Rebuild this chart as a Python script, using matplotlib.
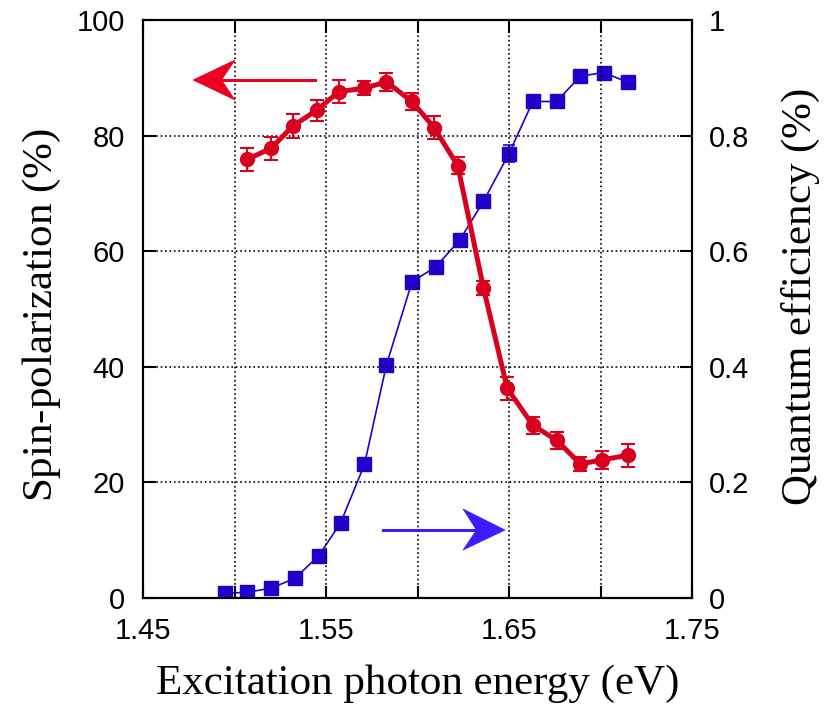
import matplotlib
matplotlib.use("Agg")
import matplotlib.pyplot as plt
from matplotlib.patches import Polygon
from matplotlib.ticker import FixedLocator

plt.rcParams['mathtext.fontset'] = 'custom'
plt.rcParams['mathtext.rm'] = 'Liberation Serif'
plt.rcParams['mathtext.it'] = 'Liberation Serif:italic'

# Spin polarization (left axis, %)
sp_energy = [1.507, 1.520, 1.532, 1.545, 1.557, 1.571, 1.583, 1.597, 1.609,
             1.622, 1.636, 1.649, 1.663, 1.676, 1.689, 1.701, 1.715]
sp_value = [75.9, 77.8, 81.7, 84.4, 87.6, 88.2, 89.3, 85.9, 81.4,
            74.8, 53.7, 36.3, 29.9, 27.3, 23.2, 23.9, 24.7]
sp_err = [2.0, 2.0, 2.1, 1.8, 2.0, 1.2, 1.5, 1.5, 2.0,
          1.5, 1.2, 2.0, 1.5, 1.5, 1.2, 1.5, 2.0]

# Quantum efficiency (right axis, %)
qe_energy = [1.495, 1.507, 1.520, 1.533, 1.546, 1.558, 1.571, 1.583, 1.597,
             1.610, 1.623, 1.636, 1.650, 1.663, 1.676, 1.689, 1.702, 1.715]
qe_value = [0.008, 0.010, 0.017, 0.034, 0.073, 0.130, 0.231, 0.403, 0.547,
            0.573, 0.619, 0.686, 0.769, 0.859, 0.859, 0.903, 0.909, 0.892]
qe_err = [0.008, 0.008, 0.008, 0.008, 0.01, 0.01, 0.01, 0.01, 0.01,
          0.01, 0.01, 0.01, 0.015, 0.01, 0.01, 0.01, 0.01, 0.01]

x_major = [1.45, 1.55, 1.65, 1.75]
x_minor = [1.50, 1.60, 1.70]
y_left_ticks = [0, 20, 40, 60, 80, 100]
y_right_ticks = [0, 0.2, 0.4, 0.6, 0.8, 1.0]
y_right_labels = ['0', '0.2', '0.4', '0.6', '0.8', '1']

RED = '#d8001e'
BLUE = '#2200cc'
ARROW_RED = '#ec0022'
ARROW_BLUE = '#3a1cff'

fig = plt.figure(figsize=(8.29, 7.08), dpi=100)
ax = fig.add_axes([143/829, 1-598/708, 549/829, 578/708])
ax2 = ax.twinx()

# Blue QE on right axis
ax2.errorbar(qe_energy, qe_value, yerr=qe_err, color=BLUE, lw=1.2,
             marker='s', ms=10.5, mec=BLUE, mfc=BLUE, capsize=4, elinewidth=1.2,
             capthick=1.2, zorder=3)

# Red spin polarization on left axis (drawn on top)
ax.errorbar(sp_energy, sp_value, yerr=sp_err, color=RED, lw=3.6,
            marker='o', ms=10, mec=RED, mfc=RED, capsize=5, elinewidth=1.5,
            capthick=1.5, ecolor=RED, zorder=4)
ax.set_zorder(ax2.get_zorder() + 1)
ax.patch.set_visible(False)

ax.set_xlim(1.45, 1.75)
ax.set_ylim(0, 100)
ax2.set_ylim(0, 1)

ax.xaxis.set_major_locator(FixedLocator(x_major))
ax.xaxis.set_minor_locator(FixedLocator(x_minor))
ax.set_xticklabels([f'{v:.2f}' for v in x_major])
ax.set_yticks(y_left_ticks)
ax.set_yticklabels([str(v) for v in y_left_ticks])
ax2.set_yticks(y_right_ticks)
ax2.set_yticklabels(y_right_labels)

ax.grid(True, which='both', axis='x', color='black', ls=':', lw=1.2)
ax.grid(True, which='major', axis='y', color='black', ls=':', lw=1.2)

for lab in ax.get_xticklabels() + ax.get_yticklabels() + ax2.get_yticklabels():
    lab.set_fontfamily('Liberation Sans')
    lab.set_fontsize(21)

ax.tick_params(which='both', direction='in', top=True, right=False,
               length=9, width=1.5)
ax.tick_params(axis='x', which='both', pad=14)
ax.tick_params(axis='y', pad=13)
ax2.tick_params(direction='in', length=9, width=1.5, pad=12)

for a in (ax, ax2):
    for s in a.spines.values():
        s.set_linewidth(1.5)

label_font = dict(family='Liberation Serif', size=31)
ax.set_xlabel('Excitation photon energy (eV)', **label_font)
ax.set_ylabel(r'Spin-polarization ($\mathit{\%}$)', **label_font)
ax2.set_ylabel(r'Quantum efficiency ($\mathit{\%}$)', **label_font)
ax.xaxis.set_label_coords(0.5, -0.115)
ax.yaxis.set_label_coords(-0.145, 0.49)
ax2.yaxis.set_label_coords(1.16, 0.52)

# Direction arrows (axes coordinates)
def arrow(tail, tip, corner1, notch, corner2, color):
    ax.plot([tail[0], notch[0]], [tail[1], notch[1]], color=color, lw=2.2,
            transform=ax.transAxes, clip_on=False, zorder=5)
    ax.add_patch(Polygon([tip, corner1, notch, corner2], closed=True,
                         facecolor=color, edgecolor=color, lw=0.5,
                         transform=ax.transAxes, zorder=5))

arrow((0.3133, 0.8962), (0.0911, 0.8962), (0.1676, 0.9308),
      (0.1430, 0.8962), (0.1676, 0.8616), ARROW_RED)
arrow((0.4372, 0.1176), (0.6594, 0.1176), (0.5829, 0.1540),
      (0.6075, 0.1176), (0.5829, 0.0830), ARROW_BLUE)

fig.savefig('out.png', dpi=100)
